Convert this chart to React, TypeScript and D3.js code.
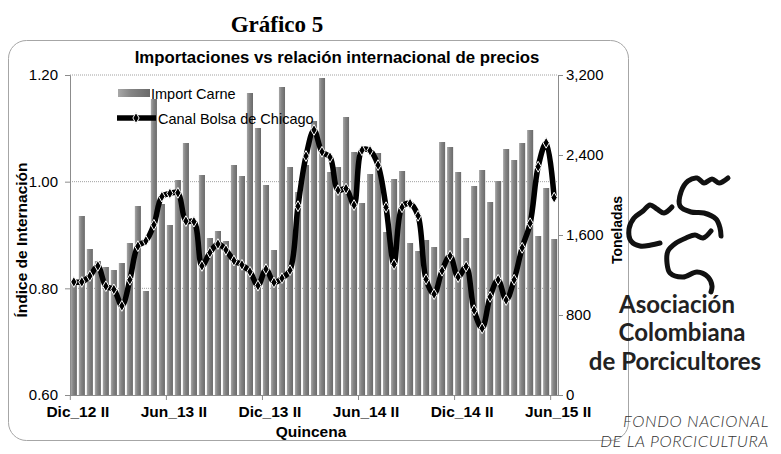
import React, { useEffect, useRef } from "react";
import * as d3 from "d3";

const quincenas = [
  "Dic_12 II",
  "Ene_13 I", "Ene_13 II", "Feb_13 I", "Feb_13 II", "Mar_13 I", "Mar_13 II",
  "Abr_13 I", "Abr_13 II", "May_13 I", "May_13 II", "Jun_13 I", "Jun_13 II",
  "Jul_13 I", "Jul_13 II", "Ago_13 I", "Ago_13 II", "Sep_13 I", "Sep_13 II",
  "Oct_13 I", "Oct_13 II", "Nov_13 I", "Nov_13 II", "Dic_13 I", "Dic_13 II",
  "Ene_14 I", "Ene_14 II", "Feb_14 I", "Feb_14 II", "Mar_14 I", "Mar_14 II",
  "Abr_14 I", "Abr_14 II", "May_14 I", "May_14 II", "Jun_14 I", "Jun_14 II",
  "Jul_14 I", "Jul_14 II", "Ago_14 I", "Ago_14 II", "Sep_14 I", "Sep_14 II",
  "Oct_14 I", "Oct_14 II", "Nov_14 I", "Nov_14 II", "Dic_14 I", "Dic_14 II",
  "Ene_15 I", "Ene_15 II", "Feb_15 I", "Feb_15 II", "Mar_15 I", "Mar_15 II",
  "Abr_15 I", "Abr_15 II", "May_15 I", "May_15 II", "Jun_15 I", "Jun_15 II",
];

const tickLabels = ["Dic_12 II", "Jun_13 II", "Dic_13 II", "Jun_14 II", "Dic_14 II", "Jun_15 II"];

// toneladas (eje derecho)
const importCarne = [
  1150, 1790, 1460, 1340, 1280, 1250, 1320, 1520, 1890, 1040, 2960, 1910,
  1700, 2150, 2520, 1730, 2200, 1570, 1640, 1540, 2300, 2190, 3020, 2670,
  2100, 1450, 3080, 2280, 2030, 2300, 2740, 3170, 2230, 2280, 2780, 2430,
  1920, 2210, 2420, 1630, 2160, 2240, 1520, 1440, 1550, 1480, 2530, 2480,
  2230, 1570, 2090, 2250, 1930, 2140, 2460, 2350, 2520, 2650, 1590, 2070,
  1560,
];

// indice de internacion (eje izquierdo)
const canalChicago = [
  0.812, 0.812, 0.823, 0.842, 0.804, 0.798, 0.767, 0.816, 0.879, 0.889, 0.919, 0.972,
  0.978, 0.979, 0.926, 0.925, 0.842, 0.867, 0.883, 0.872, 0.852, 0.844, 0.831, 0.805,
  0.836, 0.811, 0.819, 0.834, 0.954, 1.048, 1.097, 1.056, 1.046, 0.984, 0.987, 0.956,
  1.059, 1.058, 1.031, 0.952, 0.845, 0.952, 0.959, 0.936, 0.817, 0.789, 0.833, 0.861,
  0.821, 0.841, 0.759, 0.725, 0.784, 0.816, 0.778, 0.816, 0.876, 0.922, 1.028, 1.073,
  0.970,
];

const leftTicks = [0.6, 0.8, 1.0, 1.2];
const rightTicks = [0, 800, 1600, 2400, 3200];

// logo squiggles (decoration)
const logoStrokes: [number, number][][] = [
  [[728, 178], [719, 183], [712, 179], [704, 183], [697, 178], [688, 181], [681, 192], [680, 206], [691, 212], [704, 213], [716, 219], [720, 228], [721, 236]],
  [[672, 207], [664, 213], [657, 209], [650, 205], [643, 211], [634, 218], [629, 229], [631, 241], [640, 246], [651, 245], [660, 243]],
  [[711, 231], [703, 238], [695, 235], [686, 238], [676, 243], [668, 251], [667, 263], [670, 273], [683, 277], [697, 272], [708, 277], [712, 286], [711, 292]],
];

const FONT = "'Liberation Sans', Arial, sans-serif";

export default function App() {
  const ref = useRef<SVGSVGElement>(null);

  useEffect(() => {
    const svg = d3.select(ref.current);
    svg.selectAll("*").remove();

    const left = 70, right = 558, top = 75, bottom = 395;

    const x = d3.scaleBand<number>()
      .domain(d3.range(quincenas.length))
      .range([left, right])
      .paddingInner(0.24)
      .paddingOuter(0.1);
    const step = x.step();
    const yL = d3.scaleLinear().domain([0.6, 1.2]).range([bottom, top]);
    const yR = d3.scaleLinear().domain([0, 3200]).range([bottom, top]);

    const defs = svg.append("defs");
    const grad = defs.append("linearGradient").attr("id", "barGrad").attr("x1", 0).attr("x2", 1).attr("y1", 0).attr("y2", 0);
    grad.append("stop").attr("offset", "0%").attr("stop-color", "#a8a8a8");
    grad.append("stop").attr("offset", "40%").attr("stop-color", "#858585");
    grad.append("stop").attr("offset", "100%").attr("stop-color", "#6a6a6a");

    // page title
    svg.append("text")
      .attr("x", 277).attr("y", 32)
      .attr("text-anchor", "middle")
      .style("font-family", "'Liberation Serif', 'Times New Roman', serif")
      .style("font-weight", "bold").style("font-size", "23px")
      .text("Gráfico 5");

    // chart frame
    svg.append("rect")
      .attr("x", 8.5).attr("y", 40.5).attr("width", 620).attr("height", 400)
      .attr("rx", 18).attr("ry", 18)
      .attr("fill", "white").attr("stroke", "#a6a6a6");

    svg.append("text")
      .attr("x", 337).attr("y", 63)
      .attr("text-anchor", "middle")
      .style("font-family", FONT).style("font-weight", "bold").style("font-size", "16.8px")
      .text("Importaciones vs relación internacional de precios");

    // grid lines
    svg.append("g").selectAll("line")
      .data([0.8, 1.0, 1.2])
      .join("line")
      .attr("x1", left).attr("x2", right)
      .attr("y1", d => yL(d)).attr("y2", d => yL(d))
      .attr("stroke", "#a0a0a0").attr("stroke-dasharray", "1,1");

    // bars
    svg.append("g").selectAll("rect")
      .data(importCarne)
      .join("rect")
      .attr("x", (d, i) => x(i)!)
      .attr("width", x.bandwidth())
      .attr("y", d => yR(d))
      .attr("height", d => bottom - yR(d))
      .attr("fill", "url(#barGrad)");

    // axes
    const axisColor = "#8c8c8c";
    const gl = svg.append("g").attr("transform", `translate(${left},0)`)
      .call(d3.axisLeft(yL).tickValues(leftTicks).tickFormat(d3.format(".2f")).tickSize(5).tickPadding(7));
    const gr = svg.append("g").attr("transform", `translate(${right},0)`)
      .call(d3.axisRight(yR).tickValues(rightTicks).tickFormat(d3.format(",")).tickSize(5).tickPadding(3));
    [gl, gr].forEach(g => {
      g.select(".domain").attr("stroke", axisColor);
      g.selectAll(".tick line").attr("stroke", axisColor);
      g.selectAll(".tick text").style("font-family", FONT).style("font-size", "15px").attr("fill", "#000");
    });

    // category axis
    svg.append("line")
      .attr("x1", left).attr("x2", right).attr("y1", bottom + 0.5).attr("y2", bottom + 0.5)
      .attr("stroke", axisColor);
    const tickIdx = tickLabels.map(l => quincenas.indexOf(l));
    svg.append("g").selectAll("line")
      .data(tickIdx)
      .join("line")
      .attr("x1", i => x(i)! - (step - x.bandwidth()) / 2 + 0.5)
      .attr("x2", i => x(i)! - (step - x.bandwidth()) / 2 + 0.5)
      .attr("y1", bottom).attr("y2", bottom + 5)
      .attr("stroke", axisColor);
    svg.append("g").selectAll("text")
      .data(tickIdx)
      .join("text")
      .attr("x", i => x(i)! + x.bandwidth() / 2 + 4)
      .attr("y", 417)
      .attr("text-anchor", "middle")
      .style("font-family", FONT).style("font-weight", "bold").style("font-size", "15.5px")
      .text(i => quincenas[i]);

    svg.append("text")
      .attr("x", 311).attr("y", 437)
      .attr("text-anchor", "middle")
      .style("font-family", FONT).style("font-weight", "bold").style("font-size", "15.5px")
      .text("Quincena");

    svg.append("text")
      .attr("transform", "translate(27,240) rotate(-90)")
      .attr("text-anchor", "middle")
      .style("font-family", FONT).style("font-weight", "bold").style("font-size", "15.5px")
      .text("Índice de Internación");

    svg.append("text")
      .attr("transform", "translate(622,230) rotate(-90)")
      .attr("text-anchor", "middle")
      .style("font-family", FONT).style("font-weight", "bold").style("font-size", "14px")
      .text("Toneladas");

    // line series
    const cx = (i: number) => x(i)! + x.bandwidth() / 2;
    const line = d3.line<number>()
      .x((d, i) => cx(i))
      .y(d => yL(d))
      .curve(d3.curveCatmullRom.alpha(0.5));
    svg.append("path")
      .datum(canalChicago)
      .attr("d", line)
      .attr("fill", "none")
      .attr("stroke", "#000")
      .attr("stroke-width", 5.5)
      .attr("stroke-linejoin", "round");

    const diamond = d3.symbol().type(d3.symbolDiamond).size(34);
    svg.append("g").selectAll("path")
      .data(canalChicago)
      .join("path")
      .attr("transform", (d, i) => `translate(${cx(i)},${yL(d)})`)
      .attr("d", diamond)
      .attr("fill", "#000")
      .attr("stroke", "#fff")
      .attr("stroke-width", 1);

    // legend
    const lg = svg.append("g");
    lg.append("rect").attr("x", 118).attr("y", 89).attr("width", 32).attr("height", 8).attr("fill", "url(#barGrad)");
    lg.append("text").attr("x", 151).attr("y", 99)
      .style("font-family", FONT).style("font-size", "14.5px").text("Import Carne");
    lg.append("line").attr("x1", 117).attr("x2", 156).attr("y1", 118).attr("y2", 118)
      .attr("stroke", "#000").attr("stroke-width", 5.5);
    lg.append("path").attr("transform", "translate(136,118)").attr("d", diamond)
      .attr("fill", "#000").attr("stroke", "#fff").attr("stroke-width", 1);
    lg.append("text").attr("x", 158).attr("y", 124)
      .style("font-family", FONT).style("font-size", "14.5px").text("Canal Bolsa de Chicago");

    // logo
    const squig = d3.line().curve(d3.curveCatmullRom.alpha(0.5));
    svg.append("g").selectAll("path")
      .data(logoStrokes)
      .join("path")
      .attr("d", d => squig(d))
      .attr("fill", "none").attr("stroke", "#111").attr("stroke-width", 5)
      .attr("stroke-linecap", "round").attr("stroke-linejoin", "round");

    const logoFont = "Lato, 'Open Sans', sans-serif";
    const logoLines = [
      { t: "Asociación", x: 677, y: 313 },
      { t: "Colombiana", x: 682, y: 341 },
      { t: "de Porcicultores", x: 675, y: 370 },
    ];
    svg.append("g").selectAll("text")
      .data(logoLines)
      .join("text")
      .attr("x", d => d.x).attr("y", d => d.y)
      .attr("text-anchor", "middle")
      .style("font-family", logoFont).style("font-weight", 700).style("font-size", "24px")
      .attr("fill", "#222")
      .text(d => d.t);

    const fondo = [
      { t: "FONDO NACIONAL", x: 769, y: 427 },
      { t: "DE LA PORCICULTURA", x: 769, y: 447 },
    ];
    svg.append("g").selectAll("text")
      .data(fondo)
      .join("text")
      .attr("x", d => d.x).attr("y", d => d.y)
      .attr("text-anchor", "end")
      .style("font-family", "Lato, sans-serif").style("font-style", "italic").style("font-weight", 300)
      .style("font-size", "16.5px").style("letter-spacing", "0.6px")
      .attr("fill", "#333")
      .text(d => d.t);
  }, []);

  return (
    <svg
      ref={ref}
      width={781}
      height={454}
      style={{ position: "absolute", left: 0, top: 0, background: "#fff" }}
    />
  );
}
